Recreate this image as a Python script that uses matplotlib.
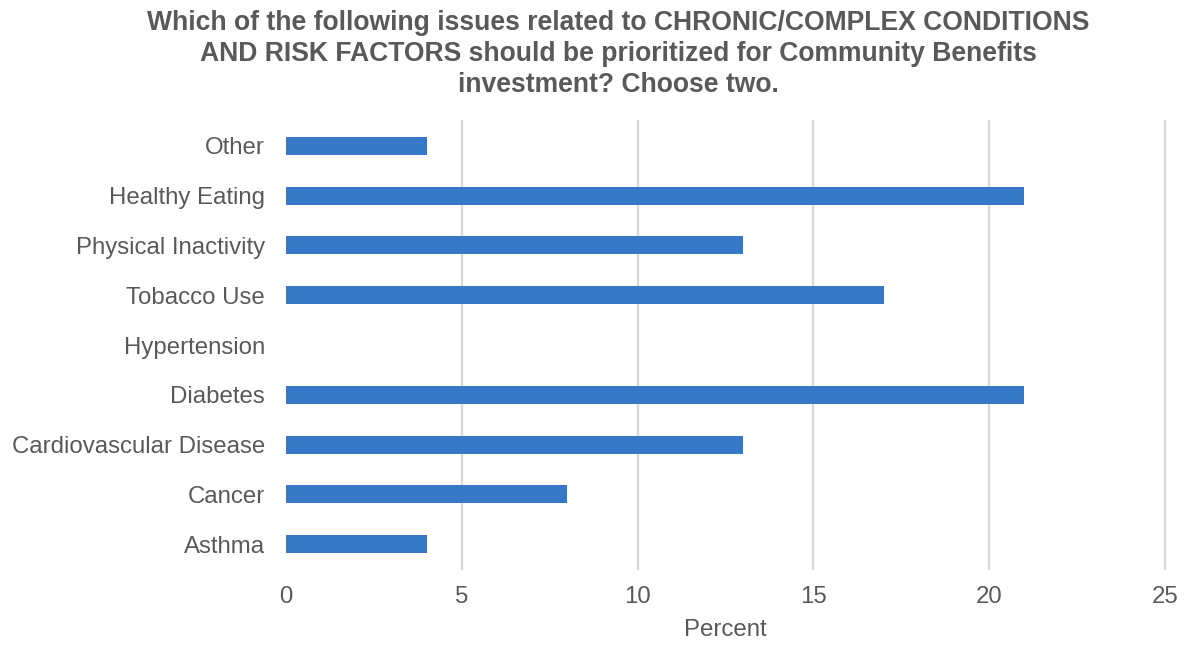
import matplotlib
matplotlib.use("Agg")
import matplotlib.pyplot as plt

categories = ["Asthma", "Cancer", "Cardiovascular Disease", "Diabetes", "Hypertension",
              "Tobacco Use", "Physical Inactivity", "Healthy Eating", "Other"]
values = [4, 8, 13, 21, 0, 17, 13, 21, 4]
x_ticks = [0, 5, 10, 15, 20, 25]

title = ("Which of the following issues related to CHRONIC/COMPLEX CONDITIONS\n"
         "AND RISK FACTORS should be prioritized for Community Benefits\n"
         "investment? Choose two.")

plt.rcParams["font.family"] = ["Liberation Sans", "DejaVu Sans"]
text_color = "#595959"
bar_color = "#3778C6"
grid_color = "#D9D9D9"

fig = plt.figure(figsize=(11.84, 6.45), dpi=100)
ax = fig.add_axes([0.2416, 0.1178, 0.9840 - 0.2416, 0.8124 - 0.1178])

ax.barh(range(len(categories)), values, height=0.36, color=bar_color, zorder=3)
ax.set_ylim(-0.5, len(categories) - 0.5)
ax.set_xlim(0, 25)
ax.set_xticks(x_ticks)
ax.set_xticklabels([str(t) for t in x_ticks])
ax.set_yticks(range(len(categories)))
ax.set_yticklabels(categories)

for t in x_ticks[1:]:
    ax.axvline(t, color=grid_color, linewidth=1.7, zorder=1, clip_on=False)

for s in ax.spines.values():
    s.set_visible(False)
ax.tick_params(axis="both", length=0, labelsize=17.3, labelcolor=text_color)
ax.tick_params(axis="x", pad=12)
ax.tick_params(axis="y", pad=15)

ax.set_xlabel("Percent", fontsize=17.3, color=text_color, labelpad=8)
fig.text(0.5224, 0.985, title, ha="center", va="top", fontsize=19.1,
         fontweight="bold", color=text_color, linespacing=1.25)

fig.savefig("out.png", dpi=100, facecolor="white")
